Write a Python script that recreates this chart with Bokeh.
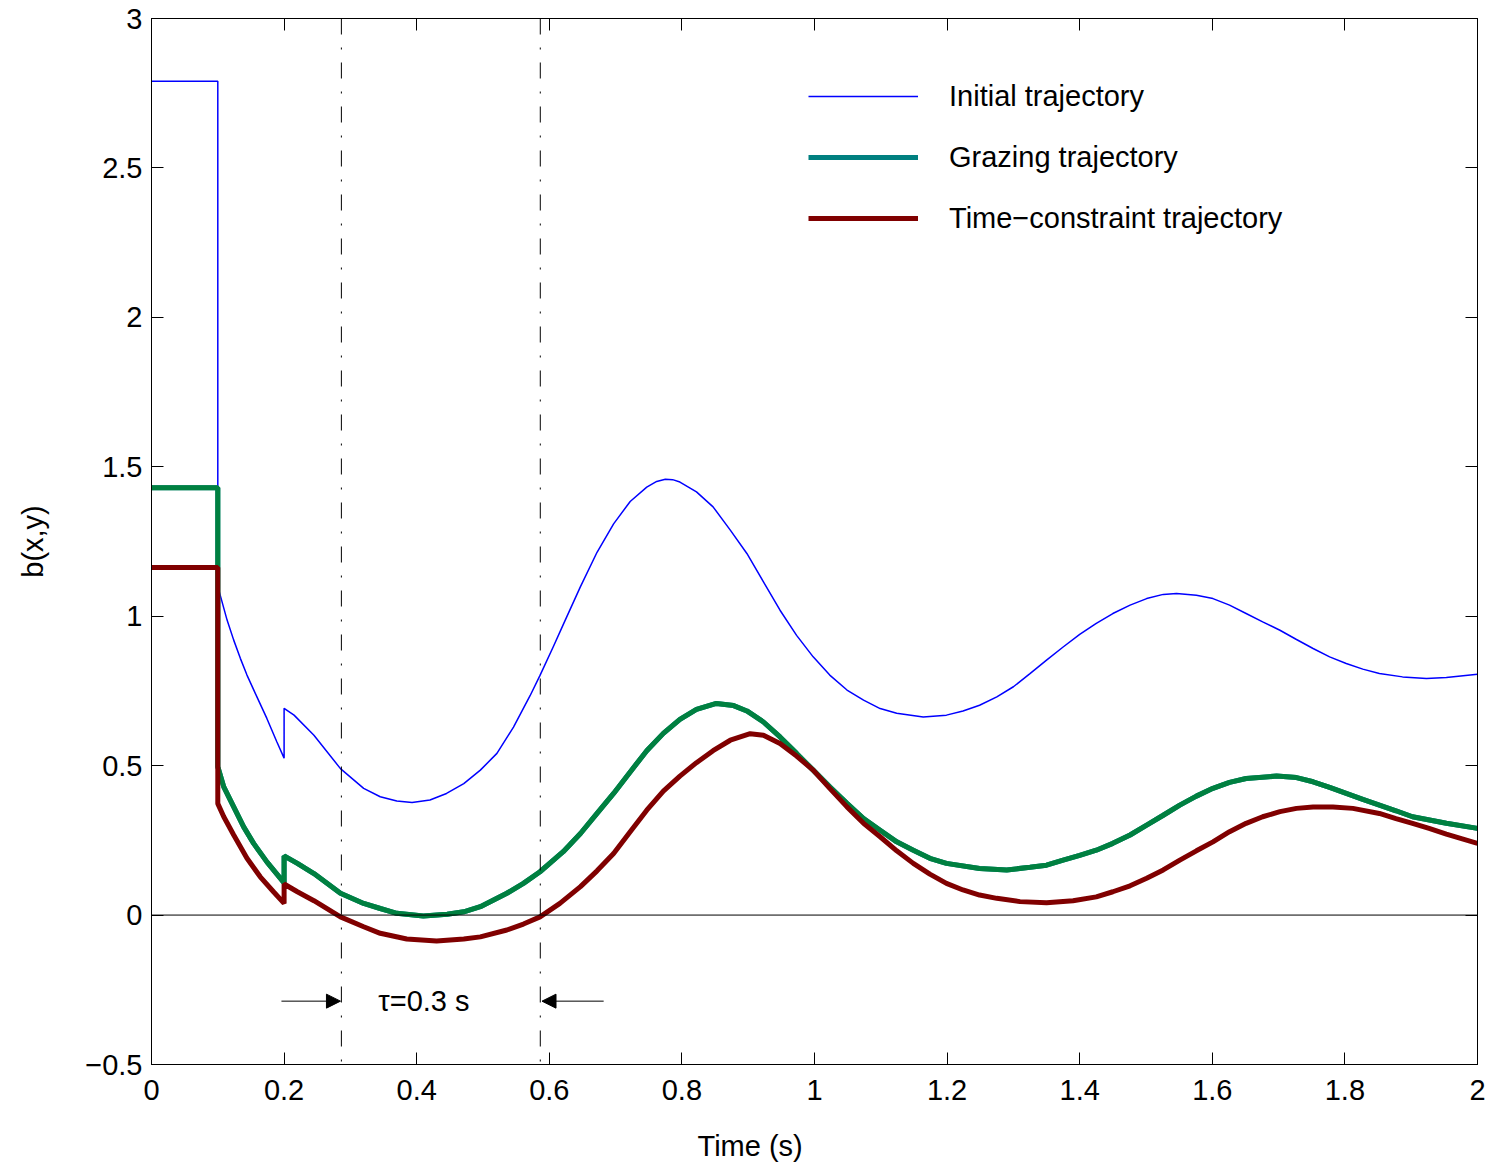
from bokeh.plotting import figure
from bokeh.models import (Range1d, FixedTicker, LinearAxis, CustomJSTickFormatter, Span,
                          Arrow, NormalHead, Label, Legend, LegendItem, CustomLabelingPolicy, Title)
from bokeh.embed import file_html
from bokeh.resources import INLINE

# ---- data ----
blue_t = [0, 0.1, 0.1, 0.114, 0.124, 0.134, 0.144, 0.159, 0.174, 0.189, 0.2, 0.2, 0.215, 0.245,
          0.285, 0.32, 0.345, 0.37, 0.393, 0.42, 0.445, 0.471, 0.496, 0.521, 0.546, 0.571, 0.586,
          0.606, 0.621, 0.647, 0.672, 0.697, 0.722, 0.747, 0.762, 0.775, 0.786, 0.797, 0.822,
          0.847, 0.873, 0.898, 0.923, 0.948, 0.973, 0.998, 1.023, 1.049, 1.074, 1.099, 1.124,
          1.164, 1.199, 1.224, 1.249, 1.275, 1.300, 1.325, 1.350, 1.375, 1.400, 1.425, 1.450,
          1.476, 1.501, 1.526, 1.546, 1.576, 1.601, 1.626, 1.651, 1.676, 1.702, 1.727, 1.752,
          1.777, 1.802, 1.827, 1.852, 1.887, 1.923, 1.953, 2.0]
blue_v = [2.79, 2.79, 1.10, 0.987, 0.920, 0.859, 0.803, 0.730, 0.658, 0.580, 0.525, 0.692, 0.669,
          0.602, 0.490, 0.424, 0.396, 0.382, 0.377, 0.385, 0.407, 0.440, 0.485, 0.541, 0.629,
          0.734, 0.802, 0.898, 0.972, 1.099, 1.214, 1.309, 1.384, 1.432, 1.451, 1.458, 1.457,
          1.449, 1.416, 1.366, 1.288, 1.210, 1.115, 1.020, 0.936, 0.864, 0.803, 0.753, 0.719,
          0.691, 0.675, 0.663, 0.669, 0.683, 0.702, 0.730, 0.764, 0.808, 0.853, 0.897, 0.939,
          0.976, 1.009, 1.037, 1.059, 1.073, 1.076, 1.070, 1.059, 1.037, 1.009, 0.981, 0.953,
          0.922, 0.892, 0.864, 0.842, 0.823, 0.808, 0.797, 0.792, 0.795, 0.806]

green_t = [0, 0.1, 0.1, 0.109, 0.124, 0.139, 0.154, 0.174, 0.2, 0.2, 0.22, 0.245, 0.285, 0.32,
           0.345, 0.37, 0.41, 0.446, 0.471, 0.496, 0.536, 0.561, 0.586, 0.621, 0.647, 0.672,
           0.697, 0.722, 0.747, 0.772, 0.797, 0.822, 0.852, 0.878, 0.898, 0.923, 0.948, 0.973,
           0.998, 1.023, 1.049, 1.074, 1.099, 1.124, 1.149, 1.174, 1.199, 1.249, 1.29, 1.325,
           1.35, 1.375, 1.40, 1.425, 1.45, 1.476, 1.501, 1.526, 1.551, 1.576, 1.601, 1.626,
           1.651, 1.697, 1.727, 1.752, 1.777, 1.802, 1.827, 1.852, 1.877, 1.902, 1.953, 2.0]
green_v = [1.43, 1.43, 0.496, 0.429, 0.362, 0.295, 0.240, 0.178, 0.108, 0.198, 0.173, 0.139,
           0.073, 0.039, 0.022, 0.006, -0.003, 0.003, 0.011, 0.028, 0.073, 0.106, 0.145, 0.212,
           0.273, 0.340, 0.407, 0.479, 0.550, 0.608, 0.655, 0.688, 0.708, 0.701, 0.683, 0.646,
           0.596, 0.541, 0.485, 0.429, 0.374, 0.323, 0.284, 0.245, 0.217, 0.190, 0.173, 0.156,
           0.151, 0.160, 0.167, 0.184, 0.200, 0.217, 0.240, 0.268, 0.301, 0.334, 0.368, 0.398,
           0.424, 0.444, 0.457, 0.465, 0.460, 0.446, 0.427, 0.407, 0.387, 0.368, 0.349, 0.329,
           0.307, 0.290]

red_t = [0, 0.1, 0.1, 0.109, 0.124, 0.144, 0.164, 0.184, 0.2, 0.2, 0.22, 0.245, 0.285, 0.32,
         0.345, 0.385, 0.43, 0.471, 0.496, 0.536, 0.561, 0.586, 0.616, 0.647, 0.672, 0.697,
         0.722, 0.747, 0.772, 0.797, 0.822, 0.847, 0.873, 0.903, 0.923, 0.948, 0.973, 0.998,
         1.023, 1.049, 1.074, 1.099, 1.124, 1.149, 1.174, 1.199, 1.224, 1.249, 1.275, 1.310,
         1.35, 1.39, 1.425, 1.45, 1.476, 1.501, 1.526, 1.551, 1.576, 1.601, 1.626, 1.651,
         1.676, 1.702, 1.727, 1.752, 1.782, 1.812, 1.852, 1.877, 1.902, 1.927, 1.953, 2.0]
red_v = [1.163, 1.163, 0.373, 0.329, 0.268, 0.190, 0.128, 0.078, 0.039, 0.104, 0.078, 0.048,
         -0.006, -0.039, -0.061, -0.080, -0.087, -0.080, -0.073, -0.050, -0.030, -0.006, 0.039,
         0.095, 0.148, 0.206, 0.279, 0.351, 0.415, 0.465, 0.510, 0.550, 0.585, 0.607, 0.602,
         0.574, 0.532, 0.485, 0.424, 0.362, 0.307, 0.262, 0.215, 0.173, 0.137, 0.106, 0.084,
         0.067, 0.056, 0.045, 0.041, 0.048, 0.061, 0.078, 0.098, 0.123, 0.151, 0.184, 0.215,
         0.245, 0.279, 0.307, 0.329, 0.346, 0.357, 0.362, 0.362, 0.357, 0.340, 0.323, 0.307,
         0.290, 0.271, 0.240]

tau_lines = [0.2864, 0.5864]
x_ticks = [0, 0.2, 0.4, 0.6, 0.8, 1, 1.2, 1.4, 1.6, 1.8, 2]
y_ticks = [-0.5, 0, 0.5, 1, 1.5, 2, 2.5, 3]
labels = ["Initial trajectory", "Grazing trajectory", "Time\u2212constraint trajectory"]

FONT = "Liberation Sans"
FS = "29px"

p = figure(width=1490, height=1164, output_backend="svg", toolbar_location=None,
           x_range=Range1d(0, 2), y_range=Range1d(-0.5, 3),
           min_border_left=151, min_border_right=13, min_border_top=18, min_border_bottom=100,
           background_fill_color="white", border_fill_color="white")
p.grid.visible = False
p.outline_line_color = "black"
p.outline_line_width = 1

fmt = CustomJSTickFormatter(code="""
const s = Number(tick.toFixed(2)).toString();
return s.replace('-', '\\u2212');
""")

for ax, ticks in ((p.xaxis[0], x_ticks), (p.yaxis[0], y_ticks)):
    ax.ticker = FixedTicker(ticks=ticks)
    ax.formatter = fmt
    ax.major_tick_in = 12
    ax.major_tick_out = 0
    ax.minor_tick_in = 0
    ax.minor_tick_out = 0
    ax.major_label_text_font = FONT
    ax.major_label_text_font_size = FS
    ax.major_label_text_color = "black"
    ax.axis_label_text_font = FONT
    ax.axis_label_text_font_size = FS
    ax.axis_label_text_font_style = "normal"
    ax.axis_label_text_color = "black"
    ax.axis_line_color = "black"
    ax.major_tick_line_color = "black"

p.xaxis[0].major_label_standoff = 15
p.yaxis[0].axis_label = "b(x,y)"
p.yaxis[0].major_label_standoff = 9
p.yaxis[0].axis_label_standoff = 33

hide_all = CustomLabelingPolicy(code="for (const i of indices) indices.unset(i); return indices")
for loc, ticks in (("above", x_ticks), ("right", y_ticks)):
    a = LinearAxis(ticker=FixedTicker(ticks=ticks), major_tick_in=12, major_tick_out=0,
                   minor_tick_in=0, minor_tick_out=0, major_label_text_font_size="1px",
                   major_label_standoff=0, major_label_policy=hide_all,
                   axis_line_color="black", major_tick_line_color="black")
    p.add_layout(a, loc)

# invisible spacer below the tick labels, then the x title (left of frame centre, as in the original)
spacer = LinearAxis(ticker=FixedTicker(ticks=x_ticks), major_tick_in=0, major_tick_out=0,
                    minor_tick_in=0, minor_tick_out=0, major_label_text_font_size="1px",
                    major_label_standoff=21, major_label_policy=hide_all,
                    axis_line_color=None, major_tick_line_color=None)
p.add_layout(spacer, "below")
p.add_layout(Title(text="Time (s)", align="left", offset=546, text_font=FONT,
                   text_font_size=FS, text_font_style="normal", text_color="black",
                   standoff=0), "below")

# vertical dash-dot lines
for t in tau_lines:
    p.add_layout(Span(location=t, dimension="height", line_color="black", line_width=1,
                      line_dash="16 13 2 13"))

blue_r = p.line(blue_t, blue_v, line_color="#0000FF", line_width=1.5)
# teal copy sits exactly under the green curve; it only supplies the legend's teal sample
teal_r = p.line(green_t, green_v, line_color="#008080", line_width=5)
green_r = p.line(green_t, green_v, line_color="#008040", line_width=5)
red_r = p.line(red_t, red_v, line_color="#800000", line_width=5)

p.add_layout(Span(location=0, dimension="width", line_color="black", line_width=1))

legend = Legend(items=[LegendItem(label=labels[0], renderers=[blue_r]),
                       LegendItem(label=labels[1], renderers=[teal_r]),
                       LegendItem(label=labels[2], renderers=[red_r])],
                location=(657, 829), orientation="vertical",
                glyph_width=110, glyph_height=34, label_height=34, spacing=27,
                label_standoff=31, padding=0, margin=0,
                border_line_alpha=0, background_fill_alpha=0,
                label_text_font=FONT, label_text_font_size=FS, label_text_color="black")
p.add_layout(legend)

# tau annotation
arrow_y = -0.288
p.add_layout(Arrow(end=NormalHead(size=14, fill_color="black", line_color="black"),
                   x_start=0.196, y_start=arrow_y, x_end=0.285, y_end=arrow_y,
                   line_color="black", line_width=1))
p.add_layout(Arrow(end=NormalHead(size=14, fill_color="black", line_color="black"),
                   x_start=0.682, y_start=arrow_y, x_end=0.589, y_end=arrow_y,
                   line_color="black", line_width=1))
p.add_layout(Label(x=0.342, y=arrow_y, text="\u03c4=0.3 s", text_baseline="middle",
                   text_align="left", text_font=FONT, text_font_size=FS, text_color="black"))

open("out.html", "w", encoding="utf-8").write(file_html(p, INLINE))
